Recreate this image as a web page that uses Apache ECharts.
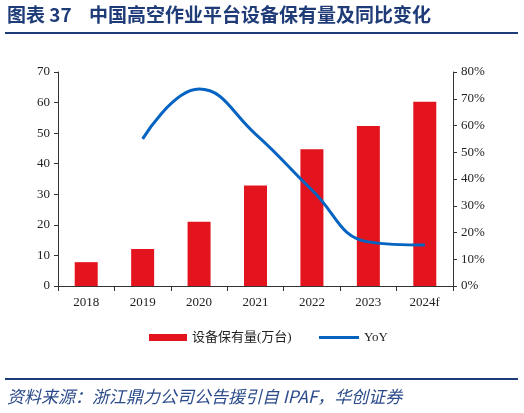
<!DOCTYPE html>
<html><head><meta charset="utf-8">
<script src="https://cdn.jsdelivr.net/npm/echarts@6/dist/echarts.min.js"></script>
<style>html,body{margin:0;padding:0;background:#fff}#c{width:524px;height:413px}</style>
</head><body><div id="c"></div>
<script>
const categories = ['2018','2019','2020','2021','2022','2023','2024f'];
const stock = [7.8, 12.1, 21.0, 32.9, 44.7, 52.3, 60.3];
const yoy = [null, 55.0, 73.6, 56.8, 35.9, 16.5, 15.3];
const leftTicks = [0,10,20,30,40,50,60,70];
const rightTicks = [0,10,20,30,40,50,60,70,80];

const serif = '"Liberation Serif","Times New Roman","Noto Sans CJK SC",serif';
const navy = '#1F3C78';
const chart = echarts.init(document.getElementById('c'));
chart.setOption({
  animation: false,
  backgroundColor: '#fff',
  graphic: [
    {type:'text', left: 7, top: 5, style:{text:'图表 37    中国高空作业平台设备保有量及同比变化', font:'bold 19px "Noto Sans CJK SC", sans-serif', fill: navy}},
    {type:'rect', shape:{x:5, y:32, width:513, height:2}, style:{fill: navy}},
    {type:'rect', shape:{x:5, y:378, width:513, height:2}, style:{fill: navy}},
    {type:'text', left: 7, top: 388, style:{text:'资料来源：浙江鼎力公司公告援引自 IPAF，华创证券', font:'italic 17px "Noto Sans CJK SC", serif', fill: '#2A4A8A'}}
  ],
  grid: {left: 58, right: 71, top: 72, bottom: 127},
  legend: [
    {top: 326, left: 144, itemWidth: 38, itemHeight: 7,
     textStyle: {fontFamily: serif, fontSize: 13, color: '#222'},
     data: [{name:'设备保有量(万台)', icon:'rect'}]},
    {top: 326, left: 314, itemWidth: 40, itemHeight: 3,
     textStyle: {fontFamily: serif, fontSize: 13, color: '#222'},
     data: [{name:'YoY', icon:'rect'}]}
  ],
  xAxis: {
    type: 'category', data: categories,
    axisLine: {lineStyle: {color: '#333'}},
    axisTick: {show: true, lineStyle:{color:'#333'}},
    axisLabel: {fontFamily: serif, fontSize: 13, color: '#222', margin: 10}
  },
  yAxis: [
    {type:'value', min:0, max:70, interval:10, splitLine:{show:false},
     axisLine:{show:true, lineStyle:{color:'#333'}}, axisTick:{show:true, length:4},
     axisLabel:{fontFamily: serif, fontSize: 13, color:'#222', formatter: v => String(v)}},
    {type:'value', min:0, max:80, interval:10, splitLine:{show:false},
     axisLine:{show:true, lineStyle:{color:'#333'}}, axisTick:{show:true, length:4},
     axisLabel:{fontFamily: serif, fontSize: 13, color:'#222', formatter: v => v + '%'}}
  ],
  series: [
    {name:'设备保有量(万台)', type:'bar', data: stock, barWidth: 23, itemStyle:{color:'#E3141E'}},
    {name:'YoY', type:'line', yAxisIndex: 1, data: yoy, smooth: 0.45, showSymbol: false, symbol:'none',
     lineStyle:{color:'#0563C1', width: 3}, itemStyle:{color:'#0563C1'}}
  ]
});
</script></body></html>
